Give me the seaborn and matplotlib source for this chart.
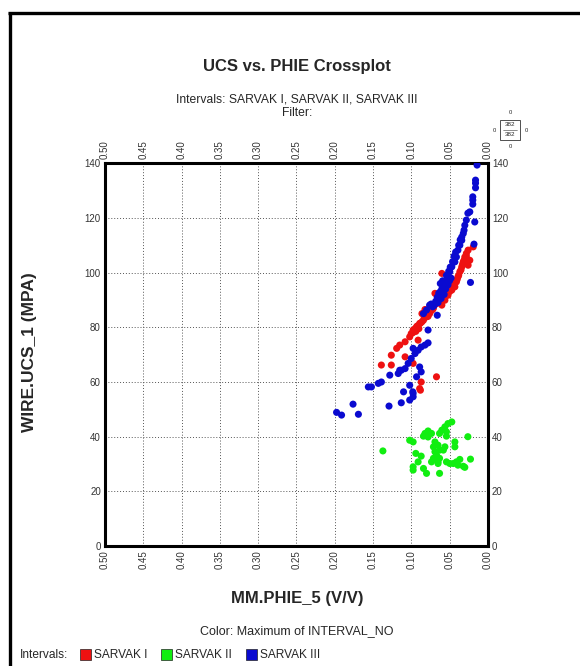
import matplotlib
matplotlib.use("Agg")
import matplotlib.pyplot as plt
from matplotlib.lines import Line2D
from matplotlib.patches import Rectangle
import seaborn as sns
import pandas as pd

# ---- data: effective porosity (V/V) vs. unconfined compressive strength (MPa)
sarvak1_phie = [0.019, 0.0257, 0.028, 0.030, 0.032, 0.034, 0.0365, 0.039, 0.041, 0.043,
                0.0235, 0.0257, 0.047, 0.052, 0.056, 0.060, 0.060, 0.069,
                0.076, 0.080, 0.084, 0.089, 0.093, 0.0975, 0.100, 0.102,
                0.108, 0.115, 0.119, 0.091, 0.126, 0.108, 0.0975, 0.139, 0.126,
                0.087, 0.089, 0.067, 0.088,
                0.098, 0.095, 0.092, 0.088, 0.086, 0.083, 0.081, 0.079, 0.074, 0.071,
                0.068, 0.064, 0.062, 0.058, 0.055, 0.050, 0.048, 0.045, 0.040, 0.038,
                0.035, 0.033, 0.031, 0.028, 0.086, 0.082, 0.078, 0.090, 0.094, 0.072]
sarvak1_ucs = [109.4, 108.2, 107.0, 105.7, 103.9, 102.1, 100.3, 98.4, 96.6, 94.8,
               104.5, 102.7, 93.6, 91.7, 89.9, 88.1, 99.7, 92.4,
               85.0, 83.8, 82.6, 81.4, 80.2, 79.0, 77.7, 76.5,
               74.7, 73.5, 72.3, 75.3, 69.8, 69.2, 66.8, 66.2, 66.2,
               60.0, 57.6, 61.9, 57.0,
               78.0, 79.5, 80.5, 81.5, 82.0, 83.5, 84.5, 85.5, 86.0, 87.0,
               88.5, 89.0, 90.0, 91.0, 92.5, 93.0, 95.0, 96.0, 97.5, 99.0,
               101.0, 103.0, 104.5, 106.0, 85.0, 86.5, 84.0, 79.5, 78.5, 86.5]

sarvak2_phie = [0.047, 0.052, 0.056, 0.060, 0.063, 0.054, 0.054,
                0.078, 0.0735, 0.082, 0.084, 0.078, 0.026, 0.102, 0.0975,
                0.043, 0.043, 0.069, 0.065, 0.071, 0.063, 0.069, 0.058, 0.067,
                0.063, 0.071, 0.065, 0.056, 0.137, 0.094, 0.087, 0.091, 0.0735,
                0.0975, 0.0975, 0.084, 0.080, 0.063, 0.065,
                0.054, 0.0496, 0.045, 0.041, 0.0365, 0.039, 0.032, 0.030, 0.0226]
sarvak2_ucs = [45.4, 44.8, 43.6, 42.4, 41.2, 41.8, 40.2,
               42.1, 41.2, 41.2, 40.2, 39.9, 40.0, 38.7, 38.1,
               38.1, 36.3, 38.1, 36.9, 36.3, 35.1, 34.5, 35.1, 33.3,
               32.1, 32.1, 30.8, 36.3, 34.8, 33.9, 32.9, 30.8, 30.8,
               29.0, 27.8, 28.4, 26.6, 26.6, 30.2,
               30.8, 30.2, 30.2, 30.8, 31.7, 29.6, 29.2, 28.8, 31.8]

sarvak3_phie = [0.014, 0.016, 0.016, 0.016, 0.0196, 0.0196, 0.0196,
                0.0235, 0.026, 0.028, 0.030, 0.017,
                0.032, 0.034, 0.0365, 0.039, 0.018,
                0.041, 0.043, 0.047, 0.0496, 0.052, 0.054, 0.0226,
                0.076, 0.080, 0.084, 0.066, 0.078,
                0.078, 0.082, 0.087, 0.091, 0.095, 0.100, 0.104, 0.108, 0.113, 0.0975,
                0.089, 0.087, 0.093, 0.128, 0.115, 0.117,
                0.139, 0.143, 0.152, 0.156, 0.102, 0.098, 0.0975, 0.110,
                0.0975, 0.102, 0.113, 0.129, 0.176, 0.169, 0.1975, 0.191,
                0.070, 0.068, 0.066, 0.064, 0.062, 0.060, 0.058, 0.056, 0.055, 0.052,
                0.050, 0.048, 0.057, 0.061, 0.065, 0.072, 0.074, 0.062, 0.059, 0.054,
                0.051, 0.049, 0.046, 0.044, 0.042, 0.038, 0.036, 0.034, 0.031]
sarvak3_ucs = [139.3, 133.8, 132.7, 131.0, 127.7, 126.5, 125.0,
               122.2, 121.7, 119.2, 117.3, 118.5,
               114.3, 111.8, 110.0, 108.2, 110.4,
               105.7, 103.9, 102.1, 100.3, 98.4, 96.6, 96.4,
               88.1, 86.3, 85.0, 84.4, 79.0,
               74.3, 73.5, 72.8, 71.6, 70.4, 68.6, 66.8, 64.9, 64.3, 72.3,
               65.5, 63.7, 61.9, 62.5, 64.3, 63.1,
               60.0, 59.5, 58.2, 58.2, 58.8, 56.4, 54.6, 56.4,
               55.8, 53.4, 52.4, 51.2, 51.9, 48.2, 48.9, 47.9,
               88.0, 89.5, 91.0, 92.5, 93.0, 94.0, 95.0, 96.0, 94.0, 95.5,
               97.0, 98.0, 92.0, 90.5, 89.0, 87.5, 88.5, 96.0, 97.0, 99.0,
               100.5, 102.0, 104.0, 106.0, 107.5, 110.0, 112.0, 113.0, 115.5]

interval_names = ["SARVAK I", "SARVAK II", "SARVAK III"]
interval_colors = ["#ee1111", "#11ee11", "#0a0ad0"]
x_ticks = [0.50, 0.45, 0.40, 0.35, 0.30, 0.25, 0.20, 0.15, 0.10, 0.05, 0.00]
y_ticks = [0, 20, 40, 60, 80, 100, 120, 140]

df = pd.concat([
    pd.DataFrame({"phie": sarvak1_phie, "ucs": sarvak1_ucs, "interval": interval_names[0]}),
    pd.DataFrame({"phie": sarvak2_phie, "ucs": sarvak2_ucs, "interval": interval_names[1]}),
    pd.DataFrame({"phie": sarvak3_phie, "ucs": sarvak3_ucs, "interval": interval_names[2]}),
], ignore_index=True)

sns.set_style("white")
plt.rcParams["font.family"] = ["Liberation Sans", "DejaVu Sans"]

W, H = 580, 666
fig = plt.figure(figsize=(W / 100, H / 100), dpi=100)
ax = fig.add_axes([0.181, 0.180, 0.660, 0.575])


def fx(px):
    return px / W


def fy(py):
    return 1 - py / H


sns.scatterplot(data=df, x="phie", y="ucs", hue="interval",
                palette=dict(zip(interval_names, interval_colors)),
                s=26, linewidth=0, legend=False, ax=ax, zorder=3)

ax.set_xlim(0.50, 0.00)
ax.set_ylim(0, 140)
ax.set_xticks(x_ticks)
ax.set_yticks(y_ticks)
ax.set_xticklabels([f"{v:.2f}" for v in x_ticks], rotation=90)
ax.set_xlabel("")
ax.set_ylabel("")
ax.grid(True, color="#555555", linestyle=(0, (1, 2)), linewidth=0.7)
ax.tick_params(axis="both", length=0, labelsize=7, labelcolor="#333333", pad=3,
               top=True, labeltop=True, right=True, labelright=True)
for sp in ax.spines.values():
    sp.set_visible(True)
    sp.set_color("black")
    sp.set_linewidth(2.2)

# titles and axis captions
fig.text(fx(297), fy(67), "UCS vs. PHIE Crossplot", ha="center", va="center",
         fontsize=12, fontweight="bold")
fig.text(fx(297), fy(99), "Intervals: SARVAK I, SARVAK II, SARVAK III", ha="center",
         va="center", fontsize=8.7)
fig.text(fx(297), fy(113), "Filter:", ha="center", va="center", fontsize=8.7)
fig.text(fx(30), fy(352), "WIRE.UCS_1 (MPA)", rotation=90, ha="center", va="center",
         fontsize=12.5, fontweight="bold")
fig.text(fx(297), fy(598), "MM.PHIE_5 (V/V)", ha="center", va="center",
         fontsize=12, fontweight="bold")
fig.text(fx(297), fy(631), "Color: Maximum of INTERVAL_NO", ha="center", va="center",
         fontsize=9)

# interval legend row
fig.text(fx(20), fy(655), "Intervals:", ha="left", va="center", fontsize=8.6)
for xs, xt, name, col in zip([80, 161, 246], [94, 175, 260], interval_names, interval_colors):
    fig.patches.append(Rectangle((fx(xs), fy(660)), fx(11), 11 / H, transform=fig.transFigure,
                                 facecolor=col, edgecolor="#222222", linewidth=0.5))
    fig.text(fx(xt), fy(655), name, ha="left", va="center", fontsize=8.6)

# point-count badge
bx, by = 510, 130
fig.text(fx(bx), fy(by - 17), "0", ha="center", va="center", fontsize=4.2)
fig.patches.append(Rectangle((fx(bx - 10), fy(by + 10)), fx(20), 20 / H,
                             transform=fig.transFigure, facecolor="white",
                             edgecolor="#333333", linewidth=0.6))
fig.text(fx(bx), fy(by - 5), "382", ha="center", va="center", fontsize=4.5)
fig.add_artist(Line2D([fx(bx - 7), fx(bx + 7)], [fy(by), fy(by)], transform=fig.transFigure,
                      color="#333333", linewidth=0.4))
fig.text(fx(bx), fy(by + 5), "382", ha="center", va="center", fontsize=4.5)
fig.text(fx(bx), fy(by + 16), "0", ha="center", va="center", fontsize=4.2)
fig.text(fx(bx - 16), fy(by), "0", ha="center", va="center", fontsize=4.2)
fig.text(fx(bx + 16), fy(by), "0", ha="center", va="center", fontsize=4.2)

# outer frame of the report page
fig.add_artist(Line2D([fx(8), 1.0], [fy(13), fy(13)], transform=fig.transFigure,
                      color="black", linewidth=2.4, solid_capstyle="butt"))
fig.add_artist(Line2D([fx(9.5), fx(9.5)], [0.0, fy(12)], transform=fig.transFigure,
                      color="black", linewidth=2.4, solid_capstyle="butt"))

fig.savefig("out.png", dpi=100, facecolor="white")
